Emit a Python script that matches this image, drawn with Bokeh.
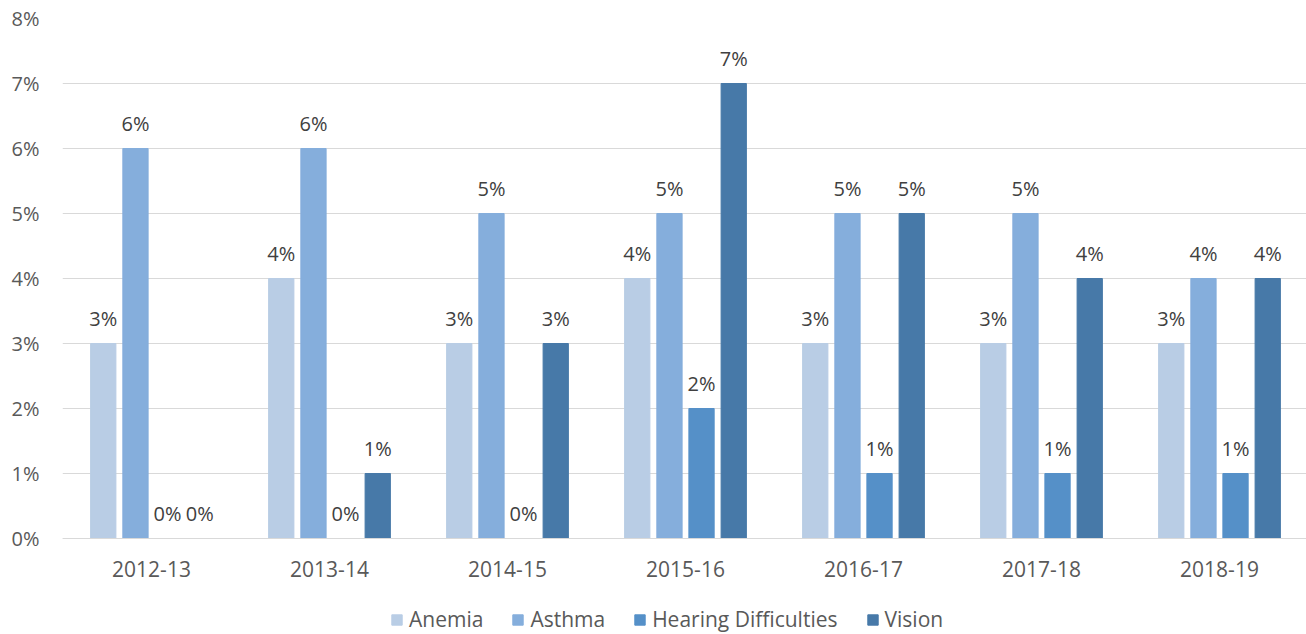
from bokeh.plotting import figure
from bokeh.models import (ColumnDataSource, Range1d, FixedTicker, NumeralTickFormatter,
                          LabelSet, Legend, LegendItem)
from bokeh.core.properties import value
from bokeh.embed import file_html
from bokeh.resources import INLINE

years = ["2012-13", "2013-14", "2014-15", "2015-16", "2016-17", "2017-18", "2018-19"]
series_names = ["Anemia", "Asthma", "Hearing Difficulties", "Vision"]
anemia = [3, 4, 3, 4, 3, 3, 3]
asthma = [6, 6, 5, 5, 5, 5, 4]
hearing = [0, 0, 0, 2, 1, 1, 1]
vision = [0, 1, 3, 7, 5, 4, 4]
y_ticks = [0, 1, 2, 3, 4, 5, 6, 7, 8]

colors = ["#B9CDE5", "#85AEDC", "#5590C8", "#4779A8"]
offsets = [-0.271, -0.090, 0.090, 0.271]
bar_w = 0.142
FONT = "Open Sans"

W, H = 1306, 634
TOP, LEFT = 18, 62
PX_PER_UNIT = 6500.0  # pixels per 1.0 (65 px per 1%)
y_top = 0.08
y_bottom = y_top - (H - TOP) / PX_PER_UNIT

p = figure(width=W, height=H, output_backend="svg", toolbar_location=None,
           x_range=Range1d(0, (W - LEFT) / 178), y_range=Range1d(y_bottom, y_top),
           min_border_left=LEFT, min_border_right=0, min_border_top=TOP, min_border_bottom=0)
p.outline_line_color = None
p.background_fill_color = "white"
p.border_fill_color = "white"

renderers = []
for name, vals, col, off in zip(series_names, [anemia, asthma, hearing, vision], colors, offsets):
    src = ColumnDataSource(dict(
        x=[i + 0.5 + off for i in range(len(years))],
        y=[v / 100 for v in vals],
        lbl=[f"{v}%" for v in vals],
    ))
    r = p.vbar(x="x", top="y", width=bar_w, bottom=0, source=src,
               fill_color=col, line_color=col)
    renderers.append((name, r))
    labels = LabelSet(x="x", y="y", text="lbl", source=src, text_align="center",
                      text_baseline="alphabetic", y_offset=18, text_font_size="20px",
                      text_color="#404040", text_font=value(FONT))
    p.add_layout(labels)

# x axis pinned at y = 0
p.xaxis.fixed_location = 0
p.xaxis.ticker = FixedTicker(ticks=[i + 0.5 for i in range(len(years))])
p.xaxis.major_label_overrides = {i + 0.5: y for i, y in enumerate(years)}
p.xaxis.major_tick_line_color = None
p.xaxis.minor_tick_line_color = None
p.xaxis.major_tick_out = 0
p.xaxis.major_tick_in = 0
p.xaxis.axis_line_color = "#D9D9D9"
p.xaxis.major_label_standoff = 22
p.xaxis.major_label_text_font_size = "21px"
p.xaxis.major_label_text_color = "#595959"
p.xaxis.major_label_text_font = FONT

p.yaxis.ticker = FixedTicker(ticks=[t / 100 for t in y_ticks])
p.yaxis.formatter = NumeralTickFormatter(format="0%")
p.yaxis.major_tick_line_color = None
p.yaxis.minor_tick_line_color = None
p.yaxis.major_tick_out = 0
p.yaxis.major_tick_in = 0
p.yaxis.axis_line_color = None
p.yaxis.major_label_standoff = 23
p.yaxis.major_label_text_font_size = "20px"
p.yaxis.major_label_text_color = "#595959"
p.yaxis.major_label_text_font = FONT

p.xgrid.grid_line_color = None
p.ygrid.grid_line_color = "#D9D9D9"
p.ygrid.grid_line_width = 1

legend = Legend(items=[LegendItem(label=n, renderers=[r]) for n, r in renderers],
                orientation="horizontal", location=(328, 1),
                glyph_width=13, glyph_height=13, label_standoff=6, spacing=28,
                padding=0, margin=0, border_line_color=None, background_fill_alpha=0,
                label_text_font_size="21px", label_text_color="#595959",
                label_text_font=FONT, label_height=20)
p.add_layout(legend, "center")

open("out.html", "w").write(file_html(p, INLINE))
